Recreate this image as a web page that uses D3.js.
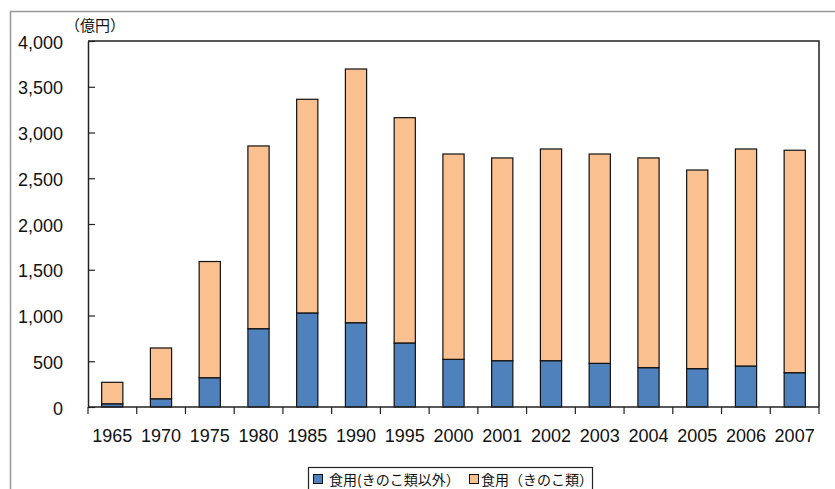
<!DOCTYPE html>
<html><head><meta charset="utf-8">
<script src="https://cdn.jsdelivr.net/npm/d3@7"></script>
<style>
body{margin:0;background:#fff;}
svg{display:block;}
text{text-spacing-trim: space-all;}
</style></head>
<body>
<svg id="c" width="835" height="489"></svg>
<script>
const years = ["1965","1970","1975","1980","1985","1990","1995","2000","2001","2002","2003","2004","2005","2006","2007"];
const nonMushroom = [35, 90, 320, 856, 1028, 921, 700, 521, 506, 506, 477, 430, 419, 448, 375];
const mushroom = [235, 555, 1270, 1997, 2335, 2773, 2462, 2244, 2216, 2314, 2288, 2292, 2171, 2372, 2431];
const seriesNames = ["食用(きのこ類以外）", "食用（きのこ類）"];
const seriesColors = ["#4F81BD", "#FAC090"];
const yTicks = [0, 500, 1000, 1500, 2000, 2500, 3000, 3500, 4000];

const svg = d3.select("#c");
const L = 88, R = 819, T = 41, B = 407;
const font = "'Liberation Sans', Arial, sans-serif";
const cjk = "'Noto Sans CJK JP', 'Noto Sans CJK SC', sans-serif";

// outer frame
svg.append("rect").attr("x", 10.5).attr("y", 11.5).attr("width", 840).attr("height", 500)
  .attr("fill", "none").attr("stroke", "#999").attr("stroke-width", 1.5);

const x = d3.scaleBand().domain(years).range([L, R]).paddingInner(0.565).paddingOuter(0.28);
const xb = d3.scaleBand().domain(years).range([L, R]);
const y = d3.scaleLinear().domain([0, 4000]).range([B, T]);

const rows = years.map((yr, i) => ({year: yr, a: nonMushroom[i], b: mushroom[i]}));
const stacked = d3.stack().keys(["a", "b"])(rows);

// plot border (top, right)
svg.append("path").attr("d", `M${L},${T}H${R}V${B}`).attr("fill", "none").attr("stroke", "#222").attr("stroke-width", 1.5);

stacked.forEach((s, si) => {
  svg.append("g").selectAll("rect").data(s).join("rect")
    .attr("x", d => x(d.data.year))
    .attr("width", x.bandwidth())
    .attr("y", d => y(d[1]))
    .attr("height", d => y(d[0]) - y(d[1]))
    .attr("fill", seriesColors[si])
    .attr("stroke", "#111").attr("stroke-width", 1.2);
});

// y axis
const yAxis = svg.append("g").attr("transform", `translate(${L},0)`)
  .call(d3.axisLeft(y).tickValues(yTicks).tickSizeInner(-7).tickSizeOuter(0).tickPadding(25)
    .tickFormat(d3.format(",")));
yAxis.select(".domain").attr("stroke", "#222").attr("stroke-width", 1.5);
yAxis.selectAll(".tick line").attr("stroke", "#222").attr("stroke-width", 1.2);
yAxis.selectAll("text").attr("font-family", font).attr("font-size", 18).attr("fill", "#111").attr("dy", "0.4em");

// x axis
const xAxis = svg.append("g").attr("transform", `translate(0,${B})`);
xAxis.append("line").attr("x1", L).attr("x2", R).attr("y1", 0).attr("y2", 0).attr("stroke", "#222").attr("stroke-width", 1.5);
const bounds = years.map(yr => xb(yr)).concat([R]);
xAxis.selectAll("line.t").data(bounds).join("line").attr("class", "t")
  .attr("x1", d => d).attr("x2", d => d).attr("y1", 0).attr("y2", 7)
  .attr("stroke", "#222").attr("stroke-width", 1.2);
xAxis.selectAll("text").data(years).join("text")
  .attr("x", d => xb(d) + xb.bandwidth() / 2)
  .attr("y", 35)
  .attr("text-anchor", "middle")
  .attr("font-family", font).attr("font-size", 18).attr("fill", "#111")
  .text(d => d);

// unit label
svg.append("text").attr("x", 65).attr("y", 31).attr("font-family", cjk).attr("font-size", 15)
  .attr("fill", "#111").text("（億円）");

// legend
const lg = svg.append("g");
lg.append("rect").attr("x", 308.5).attr("y", 467.5).attr("width", 284).attr("height", 30)
  .attr("fill", "#fff").attr("stroke", "#222").attr("stroke-width", 1.2);
const legX = [313, 469];
const txtX = [329, 481];
seriesNames.forEach((n, i) => {
  lg.append("rect").attr("x", legX[i] + 0.5).attr("y", 474.5).attr("width", 9).attr("height", 9)
    .attr("fill", seriesColors[i]).attr("stroke", "#111").attr("stroke-width", 1);
  lg.append("text").attr("x", txtX[i]).attr("y", 485).attr("font-family", cjk).attr("font-size", 14)
    .attr("fill", "#111").text(n);
});
</script>
</body></html>
